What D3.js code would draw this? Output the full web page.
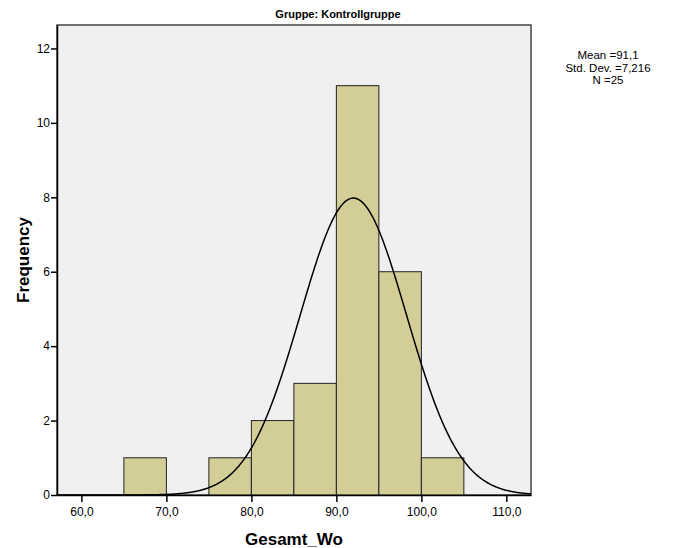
<!DOCTYPE html>
<html>
<head>
<meta charset="utf-8">
<script src="https://cdn.jsdelivr.net/npm/d3@7"></script>
<style>
  body { margin: 0; background: #fff; }
  text { font-family: "Liberation Sans", Arial, sans-serif; }
</style>
</head>
<body>
<div id="chart"></div>
<script>
// histogram bins (lower edge) and counts
const binStarts = [65, 70, 75, 80, 85, 90, 95, 100];
const counts = [1, 0, 1, 2, 3, 11, 6, 1];
const binWidth = 5;
const xTicks = [60, 70, 80, 90, 100, 110];
const yTicks = [0, 2, 4, 6, 8, 10, 12];
const statLines = ["Mean =91,1", "Std. Dev. =7,216", "N =25"];
const nCases = 25;
// fitted normal curve as drawn
const curveMean = 92.0, curveSd = 6.25;

const width = 674, height = 548;
const plot = { left: 57, right: 531, top: 25, bottom: 495 };

const svg = d3.select("#chart").append("svg")
    .attr("width", width)
    .attr("height", height);

const x = d3.scaleLinear().domain([57.13, 112.9]).range([plot.left, plot.right]);
const y = d3.scaleLinear().domain([0, 12.63]).range([plot.bottom, plot.top]);

// plot background
svg.append("rect")
    .attr("x", plot.left)
    .attr("y", plot.top)
    .attr("width", plot.right - plot.left)
    .attr("height", plot.bottom - plot.top)
    .attr("fill", "#f0f0f0")
    .attr("stroke", "#444")
    .attr("stroke-width", 1.5);

svg.append("clipPath").attr("id", "clip")
  .append("rect")
    .attr("x", plot.left)
    .attr("y", plot.top)
    .attr("width", plot.right - plot.left)
    .attr("height", plot.bottom - plot.top);

// bars
svg.append("g")
    .selectAll("rect")
    .data(binStarts.map((b, i) => ({ x0: b, n: counts[i] })).filter(d => d.n > 0))
    .join("rect")
        .attr("x", d => x(d.x0))
        .attr("y", d => y(d.n))
        .attr("width", d => x(d.x0 + binWidth) - x(d.x0))
        .attr("height", d => y(0) - y(d.n))
        .attr("fill", "#d3ce98")
        .attr("stroke", "#222")
        .attr("stroke-width", 1);

// normal curve
const curvePts = d3.range(x.domain()[0], x.domain()[1] + 0.1, 0.1).map(v => {
    const z = (v - curveMean) / curveSd;
    return [v, nCases * binWidth * Math.exp(-0.5 * z * z) / (curveSd * Math.sqrt(2 * Math.PI))];
});
svg.append("path")
    .attr("clip-path", "url(#clip)")
    .attr("d", d3.line().x(d => x(d[0])).y(d => y(d[1]))(curvePts))
    .attr("fill", "none")
    .attr("stroke", "#000")
    .attr("stroke-width", 1.5);

// axes
const fmt = d => d.toFixed(1).replace(".", ",");
const xAxis = svg.append("g")
    .attr("transform", `translate(0,${plot.bottom})`)
    .call(d3.axisBottom(x).tickValues(xTicks).tickFormat(fmt).tickSize(7).tickPadding(5).tickSizeOuter(0));
const yAxis = svg.append("g")
    .attr("transform", `translate(${plot.left},0)`)
    .call(d3.axisLeft(y).tickValues(yTicks).tickSize(6).tickPadding(1).tickSizeOuter(0));

[xAxis, yAxis].forEach(a => {
    a.select(".domain").attr("stroke", "#000").attr("stroke-width", 1.5);
    a.selectAll(".tick line").attr("stroke", "#000").attr("stroke-width", 1.5);
    a.selectAll(".tick text")
        .attr("font-family", "Liberation Sans, Arial, sans-serif")
        .attr("font-size", 12)
        .attr("fill", "#000");
});

// titles
svg.append("text")
    .attr("x", 338).attr("y", 18)
    .attr("text-anchor", "middle")
    .attr("font-size", 11).attr("font-weight", "bold")
    .text("Gruppe: Kontrollgruppe");

svg.append("text")
    .attr("x", 294).attr("y", 545)
    .attr("text-anchor", "middle")
    .attr("font-size", 17).attr("font-weight", "bold")
    .text("Gesamt_Wo");

svg.append("text")
    .attr("transform", "translate(29,260) rotate(-90)")
    .attr("text-anchor", "middle")
    .attr("font-size", 17).attr("font-weight", "bold")
    .text("Frequency");

// stats box
svg.append("g")
    .selectAll("text")
    .data(statLines)
    .join("text")
        .attr("x", 608)
        .attr("y", (d, i) => 59 + i * 12.5)
        .attr("text-anchor", "middle")
        .attr("font-size", 11.5)
        .text(d => d);
</script>
</body>
</html>
